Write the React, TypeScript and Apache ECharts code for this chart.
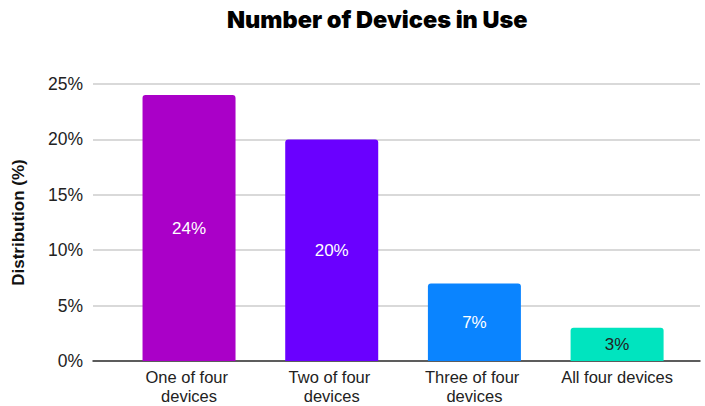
import React, { useEffect, useRef } from "react";
import * as echarts from "echarts";

const categories = ["One of four devices", "Two of four devices", "Three of four devices", "All four devices"];
const values = [24, 20, 7, 3];
const barColors = ["#aa00c8", "#6a00ff", "#0a84ff", "#00e4bf"];
const labelColors = ["#ffffff", "#ffffff", "#ffffff", "#222222"];
const yTicks = [0, 5, 10, 15, 20, 25];

export default function App() {
  const ref = useRef<HTMLDivElement>(null);
  useEffect(() => {
    const chart = echarts.init(ref.current!, null, { renderer: "svg" });
    const font = "'Liberation Sans', Arial, Helvetica, sans-serif";
    chart.setOption({
      animation: false,
      backgroundColor: "#ffffff",
      title: {
        text: "Number of Devices in Use",
        left: 222,
        top: 2,
        textStyle: { fontFamily: "Inter", fontWeight: 900, fontSize: 23.5, color: "#000" },
      },
      grid: { left: 93, right: 5, top: 84, bottom: 45, containLabel: false, outerBoundsMode: "none" },
      xAxis: {
        type: "value",
        min: -0.673,
        max: 3.581,
        splitLine: { show: false },
        axisLine: { show: true, onZero: false, lineStyle: { color: "#333", width: 1.5 } },
        axisTick: { show: false },
        axisLabel: {
          customValues: [0, 1, 2, 3],
          formatter: (v: number) => categories[Math.round(v)] ?? "",
          color: "#222",
          fontSize: 16.5,
          fontFamily: font,
          lineHeight: 19.5,
          width: 128,
          overflow: "break",
          margin: 6,
        },
      },
      yAxis: {
        type: "value",
        min: yTicks[0],
        max: yTicks[yTicks.length - 1],
        interval: 5,
        name: "Distribution (%)",
        nameLocation: "middle",
        nameGap: 66,
        nameTextStyle: { fontFamily: font, fontWeight: "bold", fontSize: 17, color: "#111" },
        axisLine: { show: false },
        axisTick: { show: false },
        splitLine: { lineStyle: { color: "#cccccc", width: 1.5 } },
        axisLabel: {
          formatter: "{value}%",
          color: "#222",
          fontSize: 17.5,
          fontFamily: font,
          margin: 10,
        },
      },
      series: [
        {
          type: "bar",
          barWidth: 93,
          data: values.map((v, i) => ({
            value: [i, v],
            itemStyle: { color: barColors[i], borderRadius: [3, 3, 0, 0] },
            label: { color: labelColors[i] },
          })),
          label: {
            show: true,
            position: "inside",
            formatter: (p: any) => p.value[1] + "%",
            fontSize: 17,
            fontFamily: font,
          },
        },
      ],
    });
    return () => chart.dispose();
  }, []);
  return <div ref={ref} style={{ position: "fixed", left: 0, top: 0, width: 705, height: 406 }} />;
}
